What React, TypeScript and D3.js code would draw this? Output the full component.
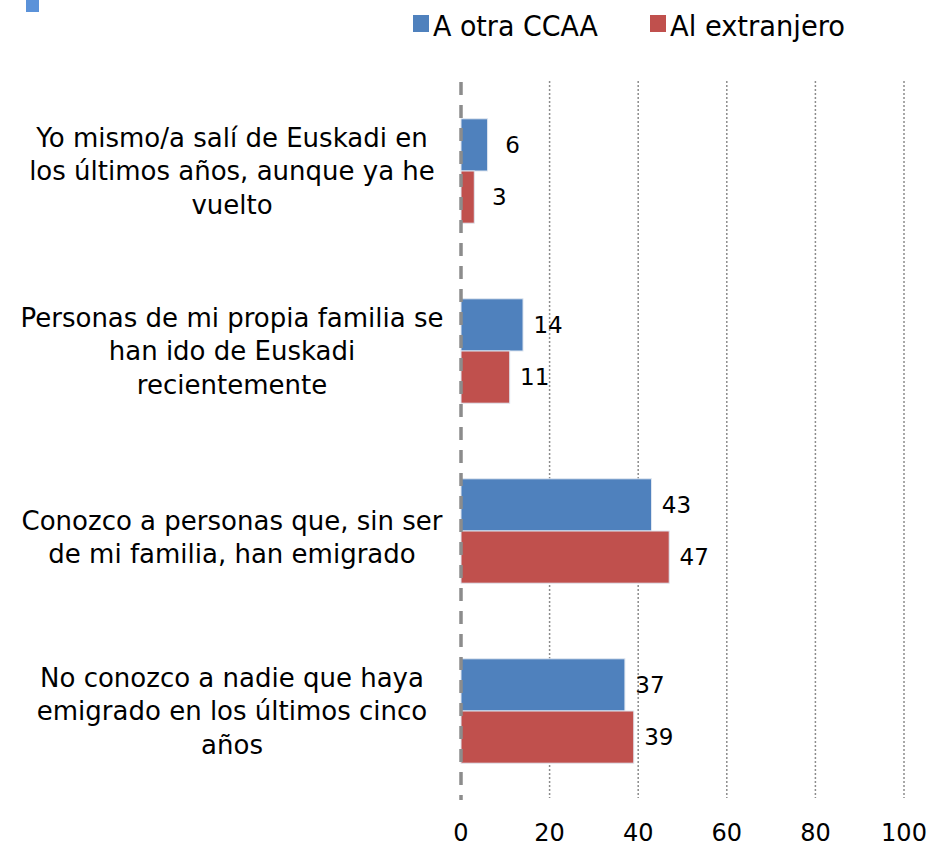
import React from "react";
import * as d3 from "d3";

const categories: string[][] = [
  ["Yo mismo/a salí de Euskadi en", "los últimos años, aunque ya he", "vuelto"],
  ["Personas de mi propia familia se", "han ido de Euskadi", "recientemente"],
  ["Conozco a personas que, sin ser", "de mi familia, han emigrado"],
  ["No conozco a nadie que haya", "emigrado en los últimos cinco", "años"],
];
const categoryKeys = ["c1", "c2", "c3", "c4"];
const seriesNames = ["A otra CCAA", "Al extranjero"];
const otraCCAA = [6, 14, 43, 37];
const extranjero = [3, 11, 47, 39];
const xTicks = [0, 20, 40, 60, 80, 100];

const colors = ["#4f81bd", "#c0504d"];
const FONT = "'DejaVu Sans', sans-serif";
const FONT_C = "'DejaVu Sans Condensed', 'DejaVu Sans', sans-serif";

export default function App() {
  const W = 930;
  const H = 846;
  const x = d3.scaleLinear().domain([0, 100]).range([461, 904]);
  const y = d3
    .scaleBand<string>()
    .domain(categoryKeys)
    .range([81, 801])
    .paddingInner(0.42)
    .paddingOuter(0.21);
  const ys = d3.scaleBand<number>().domain([0, 1]).range([0, y.bandwidth()]);
  const series = [otraCCAA, extranjero];
  const lineH = 33.5;

  return (
    <svg
      width={W}
      height={H}
      style={{ position: "absolute", left: 0, top: 0, background: "#fff" }}
      fontFamily={FONT}
    >
      <rect x={26} y={0} width={13} height={12} fill="#5b92d9" />
      {/* legend */}
      {seriesNames.map((s, i) => {
        const lx = i === 0 ? 413 : 650;
        return (
          <g key={s}>
            <rect x={lx} y={15} width={16} height={17} fill={colors[i]} />
            <text
              x={lx + 20}
              y={36}
              fontSize={29}
              fontFamily={FONT_C}
              fill="#000"
              textLength={i === 0 ? 165 : 175}
              lengthAdjust="spacingAndGlyphs"
            >
              {s}
            </text>
          </g>
        );
      })}
      {/* gridlines */}
      {xTicks.filter((t) => t > 0).map((t) => (
        <line
          key={t}
          x1={x(t)}
          x2={x(t)}
          y1={81}
          y2={798}
          stroke="#8c8c8c"
          strokeWidth={1.5}
          strokeDasharray="2,2"
        />
      ))}
      {/* bars */}
      {categoryKeys.map((k, ci) =>
        series.map((vals, si) => (
          <rect
            key={k + si}
            x={x(0)}
            y={(y(k) as number) + (ys(si) as number)}
            width={x(vals[ci]) - x(0)}
            height={ys.bandwidth()}
            fill={colors[si]}
            stroke="#dfe6f0"
            strokeWidth={1}
          />
        ))
      )}
      {/* zero line */}
      <line
        x1={x(0)}
        x2={x(0)}
        y1={82}
        y2={800}
        stroke="#8c8c8c"
        strokeWidth={3.5}
        strokeDasharray="13,10"
      />
      {/* value labels */}
      {categoryKeys.map((k, ci) =>
        series.map((vals, si) => (
          <text
            key={"l" + k + si}
            x={x(vals[ci]) + 25}
            y={(y(k) as number) + (ys(si) as number) + ys.bandwidth() / 2}
            dy="0.36em"
            textAnchor="middle"
            fontSize={23}
            fill="#000"
          >
            {vals[ci]}
          </text>
        ))
      )}
      {/* category labels */}
      {categoryKeys.map((k, ci) => {
        const lines = categories[ci];
        const cy = (y(k) as number) + y.bandwidth() / 2 + (lines.length === 2 ? 6 : 0);
        const start = cy - ((lines.length - 1) * lineH) / 2;
        return (
          <text key={"c" + k} textAnchor="middle" fontSize={26} fill="#000">
            {lines.map((ln, li) => (
              <tspan key={li} x={232} y={start + li * lineH} dy="0.36em">
                {ln}
              </tspan>
            ))}
          </text>
        );
      })}
      {/* x tick labels */}
      {xTicks.map((t) => (
        <text key={"t" + t} x={x(t)} y={832} dy="0.36em" textAnchor="middle" fontSize={24} fill="#000">
          {t}
        </text>
      ))}
    </svg>
  );
}
